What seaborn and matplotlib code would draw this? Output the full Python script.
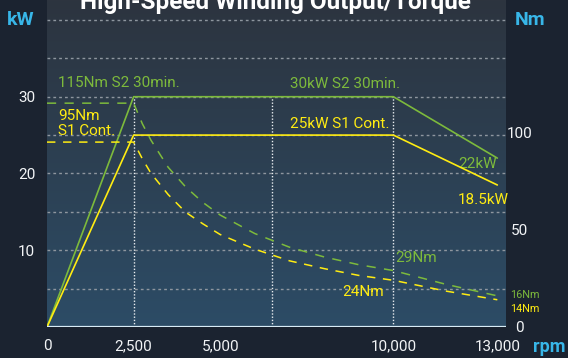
import numpy as np
import matplotlib
matplotlib.use("Agg")
import matplotlib.pyplot as plt
import seaborn as sns

# ---- data -------------------------------------------------------------
rpm_power = [0, 2500, 10000, 13000]
s2_power_kw = [0, 30, 30, 22]        # S2 30 min. output
s1_power_kw = [0, 25, 25, 18.5]      # S1 continuous output

rpm_torque = [0, 2500, 2750, 3000, 3500, 4000, 4500, 5000, 6000, 7000,
              8000, 9000, 10000, 11500, 13000]
s2_torque_nm = [115, 115, 104.5, 96, 82, 72, 64, 57.5, 48, 41, 36, 32, 29, 22, 16]
s1_torque_nm = [95, 95, 86.5, 79, 68, 59, 53, 47.5, 40, 34, 30, 26.5, 24, 18.5, 14]

x_ticks = [0, 2500, 5000, 10000, 13000]
x_tick_labels = ["0", "2,500", "5,000", "10,000", "13,000"]
kw_ticks = [10, 20, 30]
nm_ticks = [0, 50, 100]
speed_marks = [2500, 6500, 10000]

# ---- style ------------------------------------------------------------
sns.set_theme(style="dark")
plt.rcParams["font.family"] = ["Roboto", "DejaVu Sans"]

BG = "#1b2330"
GREEN = "#7dba3c"
YELLOW = "#ffec12"
BLUE = "#38b6e8"
TEXT = "#f2f4f6"

W, H = 568, 358
fig = plt.figure(figsize=(W / 100, H / 100), dpi=100, facecolor=BG)
ax = fig.add_axes([47 / W, 31 / H, 459 / W, 327 / H])
XMAX, KWMAX, NMMAX = 13250, 42.6, 168

ax.set_xlim(0, XMAX)
ax.set_ylim(0, KWMAX)

# vertical gradient for the plotting area
grad = np.linspace(0, 1, 256).reshape(-1, 1)
top = np.array([0x2d, 0x34, 0x3f]) / 255
bot = np.array([0x2c, 0x4c, 0x66]) / 255
img = top[None, None, :] * (1 - grad[..., None]) + bot[None, None, :] * grad[..., None]
ax.imshow(img, extent=(0, XMAX, 0, KWMAX), aspect="auto", origin="upper", zorder=0)

for s in ax.spines.values():
    s.set_visible(False)

# horizontal dotted grid
for yv in np.arange(5, 41, 5):
    ax.axhline(yv, color="#8e969f", lw=1.0, ls=(0, (2, 2.2)), zorder=1)
# vertical speed markers
ax.vlines(speed_marks, 0, 30, color="#e8ecef", lw=1.0, ls=(0, (1, 1.3)), zorder=1)
# base line
ax.axhline(0, color="#d8ecf6", lw=1.6, zorder=5)

# power curves
sns.lineplot(x=rpm_power, y=s2_power_kw, ax=ax, color=GREEN, lw=1.2, zorder=4)
sns.lineplot(x=rpm_power, y=s1_power_kw, ax=ax, color=YELLOW, lw=1.2, zorder=4)

ax.set_xticks(x_ticks)
ax.set_xticklabels(x_tick_labels)
ax.set_yticks(kw_ticks)
ax.tick_params(axis="x", length=0, pad=9, labelsize=11, colors=TEXT)
ax.tick_params(axis="y", length=0, pad=8.5, labelsize=11, colors=TEXT)
ax.set_xlabel("")
ax.set_ylabel("")
ax.grid(False)

# torque axis
ax2 = ax.twinx()
ax2.set_ylim(0, NMMAX)
for s in ax2.spines.values():
    s.set_visible(False)
sns.lineplot(x=rpm_torque, y=s2_torque_nm, ax=ax2, color=GREEN, lw=1.1, zorder=3)
sns.lineplot(x=rpm_torque, y=s1_torque_nm, ax=ax2, color=YELLOW, lw=1.1, zorder=3)
for ln, pat in zip(ax2.get_lines(), [(0, (6, 5.5)), (0, (5.5, 5))]):
    ln.set_linestyle(pat)
ax2.set_yticks(nm_ticks)
ax2.tick_params(axis="y", length=0, pad=10, labelsize=11, colors=TEXT)
plt.setp(ax2.get_yticklabels(), ha="center")
ax2.set_ylabel("")
ax2.grid(False)
ax2.set_xlim(0, XMAX)

# annotations
fs = 11
ax.text(318, 31.8, "115Nm S2 30min.", color=GREEN, fontsize=fs, ha="left", va="center")
ax.text(318, 27.5, "95Nm", color=YELLOW, fontsize=fs, ha="left", va="center")
ax.text(318, 25.5, "S1 Cont.", color=YELLOW, fontsize=fs, ha="left", va="center")
ax.text(7015, 31.65, "30kW S2 30min.", color=GREEN, fontsize=fs, ha="left", va="center")
ax.text(7015, 26.4, "25kW S1 Cont.", color=YELLOW, fontsize=fs, ha="left", va="center")
ax.text(12990, 21.3, "22kW", color=GREEN, fontsize=fs, ha="right", va="center")
ax.text(13330, 16.5, "18.5kW", color=YELLOW, fontsize=fs, ha="right", va="center",
        clip_on=False)
ax2.text(10050, 35.5, "29Nm", color=GREEN, fontsize=fs, ha="left", va="center")
ax2.text(9730, 18, "24Nm", color=YELLOW, fontsize=fs, ha="right", va="center")
ax2.text(13370, 16.4, "16Nm", color=GREEN, fontsize=7.8, ha="left", va="center",
         clip_on=False)
ax2.text(13370, 9.5, "14Nm", color=YELLOW, fontsize=7.8, ha="left", va="center",
         clip_on=False)

# unit labels and title
fig.text(21 / W, 1 - 20 / H, "kW", color=BLUE, fontsize=14, fontweight="bold",
         ha="center", va="center")
fig.text(530 / W, 1 - 20 / H, "Nm", color=BLUE, fontsize=14, fontweight="bold",
         ha="center", va="center")
fig.text(565 / W, 1 - 347 / H, "rpm", color=BLUE, fontsize=13, fontweight="bold",
         ha="right", va="center")
fig.text(275 / W, 1 - 9 / H, "High-Speed Winding Output/Torque", color="white",
         fontsize=17.5, fontweight="bold", ha="center", va="baseline")

fig.savefig("out.png", dpi=100, facecolor=BG)
